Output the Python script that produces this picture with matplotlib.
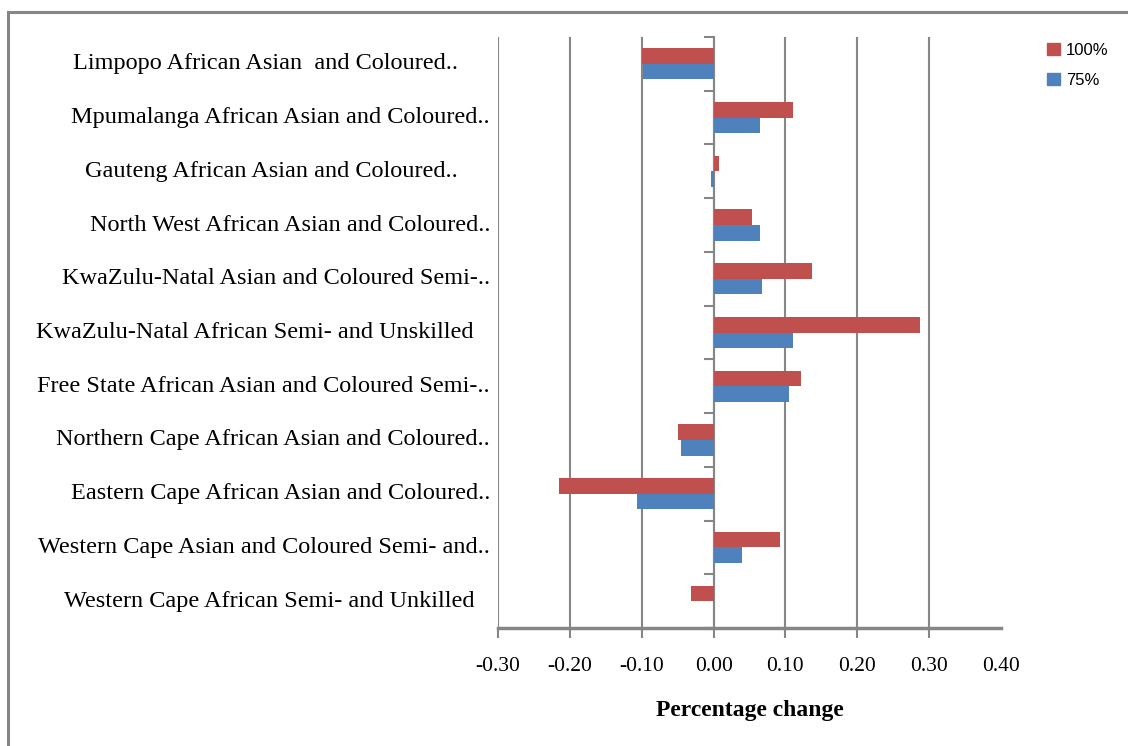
import numpy as np
import matplotlib
matplotlib.use("Agg")
import matplotlib.pyplot as plt
from matplotlib.patches import Rectangle, Patch
from matplotlib.transforms import blended_transform_factory, ScaledTranslation

# categories, top to bottom
labels = [
    "Limpopo African Asian  and Coloured..",
    "Mpumalanga African Asian and Coloured..",
    "Gauteng African Asian and Coloured..",
    "North West African Asian and Coloured..",
    "KwaZulu-Natal Asian and Coloured Semi-..",
    "KwaZulu-Natal African Semi- and Unskilled",
    "Free State African Asian and Coloured Semi-..",
    "Northern Cape African Asian and Coloured..",
    "Eastern Cape African Asian and Coloured..",
    "Western Cape Asian and Coloured Semi- and..",
    "Western Cape African Semi- and Unkilled",
]
# extra space (px) right of each label
label_pad = [32, 0, 32, 0, 0, 16, 0, 0, 0, 0, 16]

pct100 = [-0.100, 0.110, 0.007, 0.054, 0.137, 0.287, 0.121, -0.050, -0.215, 0.092, -0.032]
pct75 = [-0.098, 0.064, -0.003, 0.064, 0.067, 0.110, 0.105, -0.045, -0.107, 0.040, 0.000]

xticks = [-0.30, -0.20, -0.10, 0.00, 0.10, 0.20, 0.30, 0.40]

red = "#C0504D"
blue = "#4F81BD"
grey = "#868686"

W, H = 1128, 746
fig = plt.figure(figsize=(W / 100, H / 100), dpi=100)
ax = fig.add_axes([498 / W, 1 - 628 / H, (1001 - 498) / W, (628 - 37) / H])

# outer chart border
fig.patches.append(Rectangle((8 / W, -0.1), 1.2, 1 - 12 / H + 0.1, transform=fig.transFigure,
                             fill=False, edgecolor=grey, linewidth=2.2))

y = np.arange(len(labels))
h = 0.29
ax.barh(y - h / 2, pct100, height=h, color=red, label="100%", zorder=3)
ax.barh(y + h / 2, pct75, height=h, color=blue, label="75%", zorder=3)

ax.set_xlim(-0.30, 0.40)
ax.set_ylim(len(labels) - 0.5, -0.5)

ax.set_xticks(xticks)
ax.set_xticklabels(["%.2f" % v for v in xticks], fontfamily="Liberation Serif", fontsize=15.5)
ax.tick_params(axis="x", length=7, width=1.5, color=grey, pad=14)
ax.grid(axis="x", color=grey, linewidth=1.5, zorder=0)
# no gridline / tick mark at the right end
ax.get_xgridlines()[-1].set_visible(False)
ax.xaxis.get_major_ticks()[-1].tick1line.set_visible(False)

# category axis sits at zero, ticks on the category boundaries
ax.spines["left"].set_position(("data", 0))
ax.spines["left"].set_color(grey)
ax.spines["left"].set_linewidth(1.5)
ax.set_yticks(np.arange(-0.5, len(labels)))
ax.set_yticklabels([])
ax.tick_params(axis="y", length=7, width=1.5, color=grey)

for s in ["top", "right"]:
    ax.spines[s].set_visible(False)
ax.spines["bottom"].set_color(grey)
ax.spines["bottom"].set_linewidth(2.5)

# category labels
lt = blended_transform_factory(ax.transAxes, ax.transData)
for i, lab in enumerate(labels):
    off = ScaledTranslation(-(8 + label_pad[i]) / 100, 0, fig.dpi_scale_trans)
    ax.text(0, i, lab, transform=lt + off, ha="right", va="center",
            fontfamily="Liberation Serif", fontsize=17.5)

ax.set_xlabel("Percentage change", fontfamily="Liberation Serif", fontsize=17,
              fontweight="bold", labelpad=17)

handles = [Patch(color=red), Patch(color=blue)]
fig.legend(handles, ["100%", "75%"], loc="upper left", bbox_to_anchor=(1032 / W, 1 - 28 / H),
           frameon=False, prop={"family": "Liberation Sans", "size": 12},
           handlelength=0.75, handleheight=0.75, handletextpad=0.4, labelspacing=0.9)

fig.savefig("out.png", dpi=100)
